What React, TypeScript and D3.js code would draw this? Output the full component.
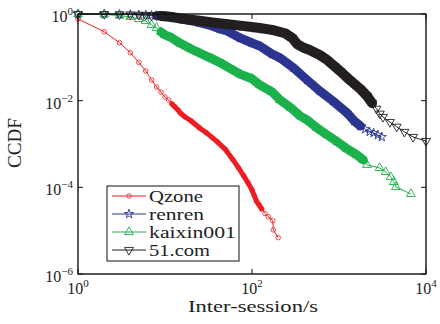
import React from "react";
import * as d3 from "d3";

// values (log-log CCDF of inter-session times)
const qzoneX = [1, 2, 3, 4, 5, 6, 7, 8, 9, 10, 11, 12, 13, 14, 15, 17, 20, 25, 30, 35, 40, 50, 60, 70, 80, 90, 100, 106, 113, 121, 129, 141, 154, 173, 176, 200];
const qzoneY = [0.767, 0.391, 0.218, 0.128, 0.0768, 0.0484, 0.03, 0.0207, 0.0158, 0.0121, 0.0104, 0.0084, 0.0072, 0.0062, 0.0052, 0.0042, 0.0034, 0.00234, 0.00181, 0.0014, 0.00112, 0.00073, 0.00044, 0.00028, 0.000186, 0.000127, 8.7e-5, 6.5e-5, 4.7e-5, 3.9e-5, 3.2e-5, 2.5e-5, 2.1e-5, 1.7e-5, 1.04e-5, 6.9e-6];

const renrenX = [1, 2, 3, 4, 5, 6, 7, 8, 9, 10, 12, 15, 20, 25, 35, 43, 50, 73, 100, 123, 170, 210, 300, 430, 600, 850, 1240, 1500, 1760, 2000, 2250, 2500, 2800, 3100];
const renrenY = [1, 0.995, 0.985, 0.975, 0.96, 0.95, 0.935, 0.92, 0.905, 0.89, 0.86, 0.77, 0.7, 0.63, 0.53, 0.45, 0.42, 0.28, 0.214, 0.183, 0.119, 0.097, 0.057, 0.03, 0.0168, 0.0098, 0.0052, 0.0034, 0.0026, 0.0022, 0.0019, 0.0018, 0.0016, 0.00145];

const kaixinX = [1, 2, 3, 4, 5, 6, 7, 8, 9, 10, 12, 15, 20, 25, 35, 46, 73, 100, 123, 170, 210, 280, 360, 430, 560, 730, 960, 1240, 1600, 1900, 2100, 2930, 3440, 3940, 4270, 4500, 6700];
const kaixinY = [1, 0.974, 0.923, 0.852, 0.767, 0.689, 0.557, 0.475, 0.384, 0.328, 0.28, 0.21, 0.156, 0.126, 0.092, 0.07, 0.041, 0.0321, 0.023, 0.0159, 0.0104, 0.0068, 0.0044, 0.0036, 0.00234, 0.00162, 0.00112, 0.00077, 0.00056, 0.00043, 0.00033, 0.00028, 0.000226, 0.000173, 0.000133, 0.000102, 7.05e-5];

const com51X = [1, 2, 3, 4, 5, 6, 7, 8, 9, 10, 12, 15, 20, 25, 35, 50, 73, 100, 123, 170, 240, 290, 330, 400, 460, 600, 730, 880, 1030, 1330, 1760, 2100, 2400, 2700, 2950, 3200, 3850, 4600, 5650, 7100, 10000];
const com51Y = [1, 0.995, 0.985, 0.974, 0.96, 0.95, 0.93, 0.92, 0.9, 0.89, 0.85, 0.79, 0.735, 0.7, 0.64, 0.59, 0.54, 0.5, 0.475, 0.43, 0.36, 0.28, 0.203, 0.164, 0.148, 0.113, 0.087, 0.063, 0.048, 0.03, 0.0186, 0.0128, 0.0088, 0.0065, 0.005, 0.0042, 0.0032, 0.0025, 0.0019, 0.00145, 0.00117];

// x range where the markers pile up into a solid band
const qzoneBand = [12, 140];
const renrenBand = [8, 1800];
const kaixinBand = [9, 2000];
const com51Band = [9, 2600];

const seriesNames = ["Qzone", "renren", "kaixin001", "51.com"];
const xTicks = [1, 100, 10000];
const xTickExp = ["0", "2", "4"];
const yTicks = [1, 1e-2, 1e-4, 1e-6];
const yTickExp = ["0", "\u22122", "\u22124", "\u22126"];

const width = 440;
const height = 324;
const margin = { top: 14, right: 14, bottom: 50, left: 78 };
const font = "Liberation Serif, DejaVu Serif, serif";

export default function App() {
  const x = d3.scaleLog().domain([1, 1e4]).range([margin.left, width - margin.right]);
  const y = d3.scaleLog().domain([1e-6, 1]).range([height - margin.bottom, margin.top]);
  const x0 = margin.left, x1 = width - margin.right;
  const y0 = height - margin.bottom, y1 = margin.top;

  const tri = d3.symbol().type(d3.symbolTriangle).size(34)();
  const star = d3.symbol().type(d3.symbolStar).size(26)();

  const series = [
    { name: seriesNames[0], xs: qzoneX, ys: qzoneY, band: qzoneBand, color: "#ee1d24", bw: 5, marker: "circle" },
    { name: seriesNames[1], xs: renrenX, ys: renrenY, band: renrenBand, color: "#2b3590", bw: 9, marker: "star" },
    { name: seriesNames[2], xs: kaixinX, ys: kaixinY, band: kaixinBand, color: "#1bb14c", bw: 9, marker: "up" },
    { name: seriesNames[3], xs: com51X, ys: com51Y, band: com51Band, color: "#231f20", bw: 10, marker: "down" },
  ];

  const line = d3
    .line<[number, number]>()
    .x((d) => x(d[0]))
    .y((d) => y(d[1]));

  const marker = (kind: string, color: string, cx: number, cy: number, key: any) => {
    if (kind === "circle")
      return <circle key={key} cx={cx} cy={cy} r={2.3} fill="none" stroke={color} strokeWidth={0.8} />;
    if (kind === "star")
      return <path key={key} d={star} transform={`translate(${cx},${cy})`} fill="none" stroke={color} strokeWidth={0.9} />;
    if (kind === "up")
      return <path key={key} d={tri} transform={`translate(${cx},${cy})`} fill="none" stroke={color} strokeWidth={0.9} />;
    return <path key={key} d={tri} transform={`translate(${cx},${cy}) rotate(180)`} fill="none" stroke={color} strokeWidth={0.9} />;
  };

  const legendRows = [196, 214, 232, 250];
  const legendLen = [54, 55, 87, 61];
  const textStyle = { fontFamily: font };

  return (
    <svg width={width} height={height} style={{ position: "absolute", left: 0, top: 0, background: "#fff" }}>
      <rect x={0} y={0} width={width} height={height} fill="#fff" />
      {series.map((s, i) => {
        const pts = s.xs.map((v, j) => [v, s.ys[j]] as [number, number]);
        const bandPts = pts.filter((p) => p[0] >= s.band[0] && p[0] <= s.band[1]);
        return (
          <g key={i}>
            <path d={line(pts) || ""} fill="none" stroke={s.color} strokeWidth={1} />
            <path d={line(bandPts) || ""} fill="none" stroke={s.color} strokeWidth={s.bw} strokeLinecap="round" strokeLinejoin="round" />
            {pts.map((p, j) => marker(s.marker, s.color, x(p[0]), y(p[1]), j))}
          </g>
        );
      })}

      {/* frame and inward ticks */}
      <rect x={x0} y={y1} width={x1 - x0} height={y0 - y1} fill="none" stroke="#111" strokeWidth={1.4} />
      {xTicks.map((t, i) => (
        <g key={"xt" + i}>
          <line x1={x(t)} x2={x(t)} y1={y0} y2={y0 - 5} stroke="#111" />
          <line x1={x(t)} x2={x(t)} y1={y1} y2={y1 + 5} stroke="#111" />
          <text x={x(t)} y={294} style={textStyle} fontSize={16} textAnchor="middle" fill="#222">
            10<tspan dy={-7} fontSize={11}>{xTickExp[i]}</tspan>
          </text>
        </g>
      ))}
      {yTicks.map((t, i) => (
        <g key={"yt" + i}>
          <line x1={x0} x2={x0 + 5} y1={y(t)} y2={y(t)} stroke="#111" />
          <line x1={x1} x2={x1 - 5} y1={y(t)} y2={y(t)} stroke="#111" />
          <text x={73} y={y(t) + 8} style={textStyle} fontSize={16} textAnchor="end" fill="#222">
            10<tspan dy={-7} fontSize={11}>{yTickExp[i]}</tspan>
          </text>
        </g>
      ))}

      <text x={253} y={312} style={textStyle} fontSize={17} textAnchor="middle" textLength={130} lengthAdjust="spacingAndGlyphs" fill="#222">
        Inter-session/s
      </text>
      <text transform="translate(21,143) rotate(-90)" style={textStyle} fontSize={18} textAnchor="middle" textLength={50} lengthAdjust="spacingAndGlyphs" fill="#222">
        CCDF
      </text>

      {/* legend */}
      <rect x={107} y={186} width={132} height={75} fill="#fff" stroke="#111" strokeWidth={1} />
      {series.map((s, i) => (
        <g key={"lg" + i}>
          <line x1={112} x2={146} y1={legendRows[i]} y2={legendRows[i]} stroke={s.color} strokeWidth={1} />
          {marker(s.marker, s.color, 129, legendRows[i], "m")}
          <text x={149} y={legendRows[i] + 6} style={textStyle} fontSize={17} textLength={legendLen[i]} lengthAdjust="spacingAndGlyphs" fill="#222">
            {s.name}
          </text>
        </g>
      ))}
    </svg>
  );
}
